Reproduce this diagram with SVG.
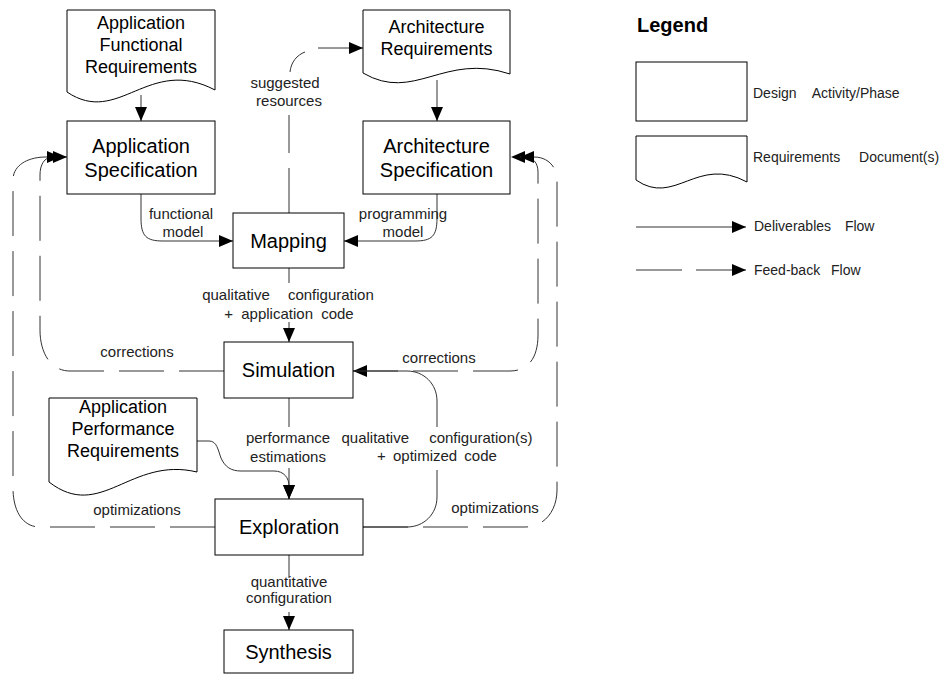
<svg xmlns="http://www.w3.org/2000/svg" width="947" height="675" viewBox="0 0 947 675">
  <style>
    .box { fill: #fff; stroke: #000; stroke-width: 1; }
    .doc { fill: #fff; stroke: #000; stroke-width: 1; }
    .big { font-family: "Liberation Sans", Arial, sans-serif; font-size: 20px; fill: #000; text-anchor: middle; }
    .doct { font-family: "Liberation Sans", Arial, sans-serif; font-size: 18px; fill: #000; text-anchor: middle; }
    .lbl { font-family: "Liberation Sans", Arial, sans-serif; font-size: 15px; fill: #222; text-anchor: middle; }
    .leg { font-family: "Liberation Sans", Arial, sans-serif; font-size: 14px; fill: #222; }
    .flow { fill: none; stroke: #333; stroke-width: 1; }
    .fb { fill: none; stroke: #333; stroke-width: 1; stroke-dasharray: 45 15; }
    .arr { marker-end: url(#head); }
  </style>
  <defs>
    <marker id="head" markerUnits="userSpaceOnUse" markerWidth="14" markerHeight="12" refX="14" refY="6" orient="auto">
      <path d="M0,0 L14,6 L0,12 Z" fill="#000"/>
    </marker>
  </defs>

  <!-- connectors and their labels -->
  <g id="connectors">
    <!-- deliverables flow -->
    <path class="flow arr" d="M141,95 V121"/>
    <path class="flow arr" d="M437,80 V121"/>
    <path class="flow arr" d="M141,194 V218 C141,236 146,241 163,241 H233"/>
    <path class="flow arr" d="M437,194 V218 C437,236 432,241 415,241 H344"/>
    <path class="flow arr" d="M289,268 V283 M289,322 V342"/>
    <path class="flow arr" d="M289,398 V427 M289,468 V499"/>
    <path class="flow arr" d="M197,441 H209 C217,441 218,450 221,458 C225,467 231,471 241,471 H274 C284,471 289,478 289,486 V499"/>
    <path class="flow arr" d="M289,555 V578 M289,612 V630"/>
    <path class="flow arr" d="M363,527 H407 C424,527 437,514 437,497 V470 M437,427 V401 C437,384 424,371 407,371 H353"/>

    <!-- feed-back flow -->
    <path class="fb" d="M289,213 V115"/>
    <path class="flow" d="M290,72 C291,62 297,55 305,52"/>
    <path class="flow arr" d="M318,48 H363"/>
    <path class="fb arr" d="M224,371 H70 C50,371 40,352 40,330 V175 C40,165 44,157 53,157 H67"/>
    <path class="fb arr" d="M215,527 H40 C22,527 13,510 13,488 V180 C13,165 28,157 46,157 H61"/>
    <path class="fb arr" d="M353,371 H510 C528,371 538,358 538,335 V172 C538,163 533,157 525,157 H511"/>
    <path class="fb arr" d="M363,527 H525 C545,527 557,510 557,490 V180 C557,167 548,157 534,157 H520"/>

    <text class="lbl" x="181" y="219">functional</text>
    <text class="lbl" x="183" y="237">model</text>
    <text class="lbl" x="403" y="219">programming</text>
    <text class="lbl" x="403" y="237">model</text>
    <text class="lbl" x="285" y="88">suggested</text>
    <text class="lbl" x="289" y="106">resources</text>
    <text class="lbl" x="288" y="300" word-spacing="14">qualitative configuration</text>
    <text class="lbl" x="289" y="319" word-spacing="4">+ application code</text>
    <text class="lbl" x="137" y="357">corrections</text>
    <text class="lbl" x="439" y="363">corrections</text>
    <text class="lbl" x="288" y="443">performance</text>
    <text class="lbl" x="288" y="462">estimations</text>
    <text class="lbl" x="437" y="443" word-spacing="16">qualitative configuration(s)</text>
    <text class="lbl" x="437" y="461" word-spacing="3">+ optimized code</text>
    <text class="lbl" x="137" y="515">optimizations</text>
    <text class="lbl" x="495" y="513">optimizations</text>
    <text class="lbl" x="289" y="587">quantitative</text>
    <text class="lbl" x="289" y="603">configuration</text>
  </g>

  <!-- requirement documents -->
  <g id="app-functional-requirements">
    <path class="doc" d="M67,10 H215 V90 C148.4,55 118.8,127 67,92 Z"/>
    <text class="doct" x="141" y="29">Application</text>
    <text class="doct" x="141" y="51">Functional</text>
    <text class="doct" x="141" y="73">Requirements</text>
  </g>
  <g id="architecture-requirements">
    <path class="doc" d="M363,10 H510 V74 C443.9,52 414.5,103 363,73 Z"/>
    <text class="doct" x="436.5" y="33">Architecture</text>
    <text class="doct" x="436.5" y="55">Requirements</text>
  </g>
  <g id="app-performance-requirements">
    <path class="doc" d="M49,398 H197 V472 C130.4,456 100.8,522 49,482 Z"/>
    <text class="doct" x="123" y="413">Application</text>
    <text class="doct" x="123" y="435">Performance</text>
    <text class="doct" x="123" y="457">Requirements</text>
  </g>

  <!-- design activities -->
  <g id="application-specification">
    <rect class="box" x="67" y="121" width="148" height="73"/>
    <text class="big" x="141" y="153">Application</text>
    <text class="big" x="141" y="177">Specification</text>
  </g>
  <g id="architecture-specification">
    <rect class="box" x="363" y="121" width="147" height="73"/>
    <text class="big" x="436.5" y="153">Architecture</text>
    <text class="big" x="436.5" y="177">Specification</text>
  </g>
  <g id="mapping">
    <rect class="box" x="233" y="213" width="111" height="55"/>
    <text class="big" x="288.5" y="248">Mapping</text>
  </g>
  <g id="simulation">
    <rect class="box" x="224" y="342" width="129" height="56"/>
    <text class="big" x="288.5" y="377">Simulation</text>
  </g>
  <g id="exploration">
    <rect class="box" x="215" y="499" width="148" height="56"/>
    <text class="big" x="289" y="534">Exploration</text>
  </g>
  <g id="synthesis">
    <rect class="box" x="224" y="630" width="129" height="43"/>
    <text class="big" x="288.5" y="659">Synthesis</text>
  </g>

  <!-- legend -->
  <g id="legend">
    <text x="637" y="32" font-family="Liberation Sans, Arial, sans-serif" font-size="20" font-weight="bold" fill="#000">Legend</text>
    <rect class="box" x="636" y="62" width="111" height="59"/>
    <text class="leg" x="753" y="98" word-spacing="12">Design Activity/Phase</text>
    <path class="doc" d="M636,136 H747 V182 C697,155 674.9,207 636,180 Z"/>
    <text class="leg" x="753" y="162" word-spacing="15">Requirements Document(s)</text>
    <path class="flow arr" d="M636,227 H746"/>
    <text class="leg" x="754" y="231" word-spacing="10">Deliverables Flow</text>
    <path class="flow arr" d="M636,270 H682 M696,270 H746"/>
    <text class="leg" x="754" y="275" word-spacing="7">Feed-back Flow</text>
  </g>
</svg>
